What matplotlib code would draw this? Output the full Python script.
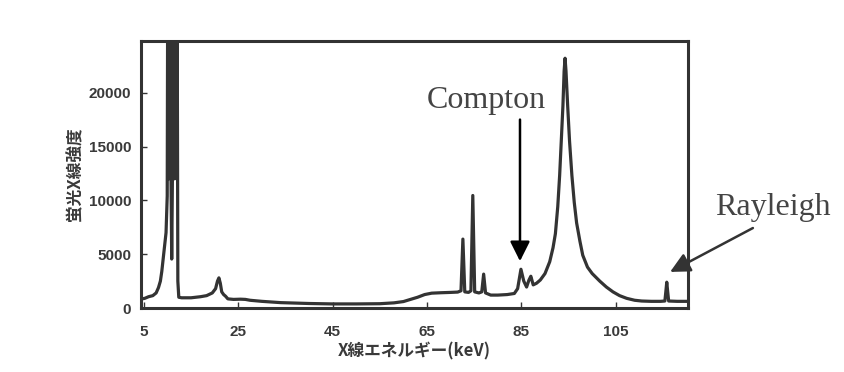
import matplotlib
matplotlib.use('Agg')
import matplotlib.pyplot as plt

# spectrum (energy in keV, counts)
energy = [4.4, 5.2, 6.0, 6.9, 7.6, 8.1, 8.5, 8.8, 9.1, 9.4, 9.7, 9.95,
          10.05, 10.3, 10.5, 10.75, 10.9, 11.05, 11.2, 11.45, 11.65, 11.9, 12.05, 12.2, 12.4,
          13.0, 15.0, 17.0, 18.3, 19.5, 20.2, 20.6, 20.9, 21.2, 21.5, 21.9, 22.3, 22.8,
          24.0, 25.5, 26.5, 27.5, 30.0, 34.0, 40.0, 45.0, 50.0, 55.0, 58.0, 60.0, 61.5,
          63.0, 64.5, 66.0, 68.0, 70.0, 71.5, 72.2, 72.6, 73.0, 73.8, 74.3, 74.7, 75.1,
          76.0, 76.6, 77.0, 77.4, 78.5, 80.0, 82.0, 83.5, 84.2, 84.9, 85.5, 86.1, 86.6,
          87.0, 87.5, 88.2, 89.0, 90.0, 91.0, 91.7, 92.2, 92.7, 93.1, 93.5, 93.8, 94.05,
          94.25, 94.45, 94.8, 95.2, 95.7, 96.2, 96.7, 97.4, 98.0, 99.0, 100.0, 101.6,
          103.0, 104.4, 105.8, 107.3, 109.0, 110.5, 112.5, 114.5, 115.4, 115.6, 115.8,
          116.0, 116.2, 118.0, 120.3]
counts = [830, 900, 1050, 1150, 1400, 1900, 2500, 3400, 4600, 5800, 7000, 10400,
          30000, 12000, 30000, 12000, 4550, 12000, 30000, 12000, 30000, 12000, 30000, 2500, 1000,
          950, 950, 1050, 1150, 1400, 1800, 2500, 2800, 2300, 1500, 1250, 1100, 850,
          800, 820, 800, 720, 620, 500, 420, 380, 380, 400, 480, 600, 800,
          1000, 1250, 1380, 1420, 1450, 1480, 1600, 6400, 1500, 1450, 1600, 10450, 1500,
          1400, 1500, 3150, 1400, 1200, 1200, 1250, 1350, 1800, 3600, 2500, 1950, 2600,
          2950, 2150, 2300, 2600, 3200, 4300, 5600, 6900, 9400, 12300, 16000, 18800, 22000,
          23200, 22000, 18800, 15500, 12300, 9800, 7900, 6200, 4900, 3800, 3200, 2500,
          1950, 1500, 1150, 900, 720, 650, 620, 620, 650, 1500, 2400,
          1500, 650, 620, 620]

xticks = [5, 25, 45, 65, 85, 105]
yticks = [0, 5000, 10000, 15000, 20000]

grey = '#333333'

fig = plt.figure(figsize=(8.45, 3.72), dpi=100)
ax = fig.add_axes([0.1669, 0.172, 0.6473, 0.7178])

ax.plot(energy, counts, color=grey, lw=2.3, solid_joinstyle='round')

ax.set_xlim(4.4, 120.3)
ax.set_ylim(0, 24800)
ax.set_xticks(xticks)
ax.set_yticks(yticks)

for s in ax.spines.values():
    s.set_linewidth(2.2)
    s.set_color(grey)

ax.tick_params(direction='in', length=4, width=1, colors=grey)
ax.tick_params(axis='x', pad=12)
ax.tick_params(axis='y', pad=7)
for lab in ax.get_xticklabels() + ax.get_yticklabels():
    lab.set_family('Liberation Sans')
    lab.set_fontsize(11)
    lab.set_fontweight('bold')
    lab.set_color('#3a3a3a')

ax.set_xlabel('X線エネルギー(keV)', family=['Noto Sans CJK JP', 'DejaVu Sans'],
              fontsize=12, fontweight='bold', color='#3a3a3a', labelpad=3)
ax.set_ylabel('蛍光X線強度', family=['Noto Sans CJK JP', 'DejaVu Sans'],
              fontsize=12, fontweight='bold', color='#3a3a3a', labelpad=3)

# annotations
ax.text(65.0, 18600, 'Compton', family='Liberation Serif', fontsize=23,
        color='#444444', ha='left', va='baseline')
ax.annotate('', xy=(84.7, 4350), xytext=(84.7, 17500),
            arrowprops=dict(arrowstyle='-|>,head_length=0.6,head_width=0.3',
                            mutation_scale=20, color='black', lw=1.8,
                            shrinkA=0, shrinkB=0))

fig.text(0.846, 0.422, 'Rayleigh', family='Liberation Serif', fontsize=23,
         color='#444444', ha='left', va='baseline')
ax.annotate('', xy=(0.793, 0.269), xytext=(0.891, 0.387),
            xycoords='figure fraction', textcoords='figure fraction',
            annotation_clip=False,
            arrowprops=dict(arrowstyle='-|>,head_length=0.6,head_width=0.3',
                            mutation_scale=20, color='#333333', lw=1.8,
                            shrinkA=0, shrinkB=0))

fig.savefig('out.png', dpi=100)
